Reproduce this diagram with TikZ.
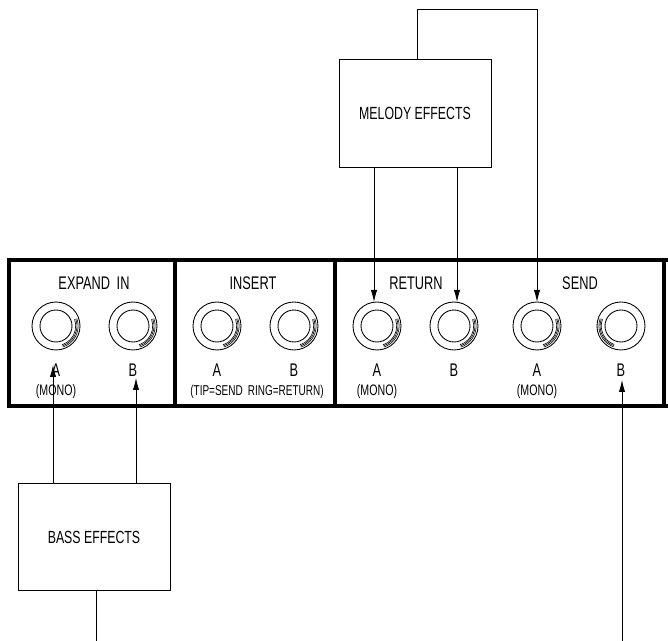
\documentclass[tikz,border=0pt]{standalone}
\usepackage{fontspec}
\setmainfont{Liberation Sans}[FakeStretch=0.7]
\usetikzlibrary{arrows.meta, positioning}
\tikzset{
  cell/.style    ={draw, line width=2.4pt, minimum height=109.5pt, outer sep=0pt, inner sep=0pt},
  fxbox/.style   ={draw, line width=0.65pt, minimum width=114pt, minimum height=80.5pt,
                   font=\fontsize{13.2}{14}\selectfont},
  jack/.style    ={draw, circle, line width=0.65pt, minimum size=36pt, inner sep=0pt},
  hole/.style    ={draw, circle, line width=0.65pt, minimum size=24pt, inner sep=0pt},
  title/.style   ={font=\fontsize{13.7}{14}\selectfont, inner sep=0pt},
  small/.style   ={font=\fontsize{11.4}{12}\selectfont, inner sep=0pt},
  wire/.style    ={line width=0.65pt},
  feed/.style    ={wire, -{Latex[length=9pt, width=4.8pt]}},
}
\begin{document}
\begin{tikzpicture}[x=.75pt, y=.75pt]
\useasboundingbox (0,0) rectangle (668,641);

% panel sections
\node[cell, minimum width=124.5pt] (expand) at (92, 308) {};
\node[cell, minimum width=120pt] (insert) at (255, 308) {};
\node[cell, minimum width=246.75pt] (retsend) at (499.5, 308) {};
\coordinate (edgeT) at (668, 381);
\coordinate (edgeB) at (668, 235);
\draw[line width=2.4pt] (retsend.north east) -- (edgeT);
\draw[line width=2.4pt] (retsend.south east) -- (edgeB);

% section titles
\node[title] (tExpand) at (94, 358) {EXPAND\, IN};
\node[title] (tInsert) at (253, 358) {INSERT};
\node[title] (tReturn) at (416, 358) {RETURN};
\node[title] (tSend) at (580, 358) {SEND};

% jacks, right hand glint
\foreach \jk/\xx/\lt in {eA/56/A, eB/133/B, iA/217/A, iB/294/B, rA/377/A, rB/454/B, sA/537/A} {
  \node[jack] (\jk) at (\xx, 315) {};
  \node[hole] (\jk h) at (\xx, 315) {};
  \foreach \rr in {14.8, 15.7, 16.6}
    \draw[line width=0.45pt] (\jk.center) ++(-72:\rr pt) arc[start angle=-72, end angle=20, radius=\rr pt];
  \node[title] (\jk l) at (\xx, 271) {\lt};
}
\node[jack] (sB) at (621, 315) {};
\node[hole] (sBh) at (621, 315) {};
\foreach \rr in {14.8, 15.7, 16.6}
  \draw[line width=0.45pt] (sB.center) ++(250:\rr pt) arc[start angle=250, end angle=160, radius=\rr pt];
\node[title] (sBl) at (621, 271) {B};

\node[small] (mE) at (56, 249) {(MONO)};
\node[small, font=\fontsize{10.7}{12}\selectfont] (nI) at (257, 249) {(TIP=SEND\, RING=RETURN)};
\node[small] (mR) at (377, 249) {(MONO)};
\node[small] (mS) at (537, 249) {(MONO)};

% effects boxes
\node[fxbox] (melody) at (415, 527.5) {MELODY EFFECTS};
\node[fxbox] (bass) at (94, 104) {BASS EFFECTS};

% connectors
\coordinate (tipRA) at (374, 339);
\coordinate (tipRB) at (457, 339);
\coordinate (tipSA) at (537, 339);
\coordinate (tipEA) at (53, 276);
\coordinate (tipEB) at (136, 263);
\coordinate (tipSB) at (622, 261);
\coordinate (loopA) at (417, 632);
\coordinate (loopB) at (537, 632);
\coordinate (stubB) at (96, 0);
\coordinate (stubS) at (622, 0);
\draw[feed] (melody.south -| tipRA) -- (tipRA);
\draw[feed] (melody.south -| tipRB) -- (tipRB);
\draw[feed] (melody.north -| loopA) -- (loopA) -- (loopB) -- (tipSA);
\draw[feed] (bass.north -| tipEA) -- (tipEA);
\draw[feed] (bass.north -| tipEB) -- (tipEB);
\draw[wire] (bass.south -| stubB) -- (stubB);
\draw[feed] (stubS) -- (tipSB);
\end{tikzpicture}
\end{document}
